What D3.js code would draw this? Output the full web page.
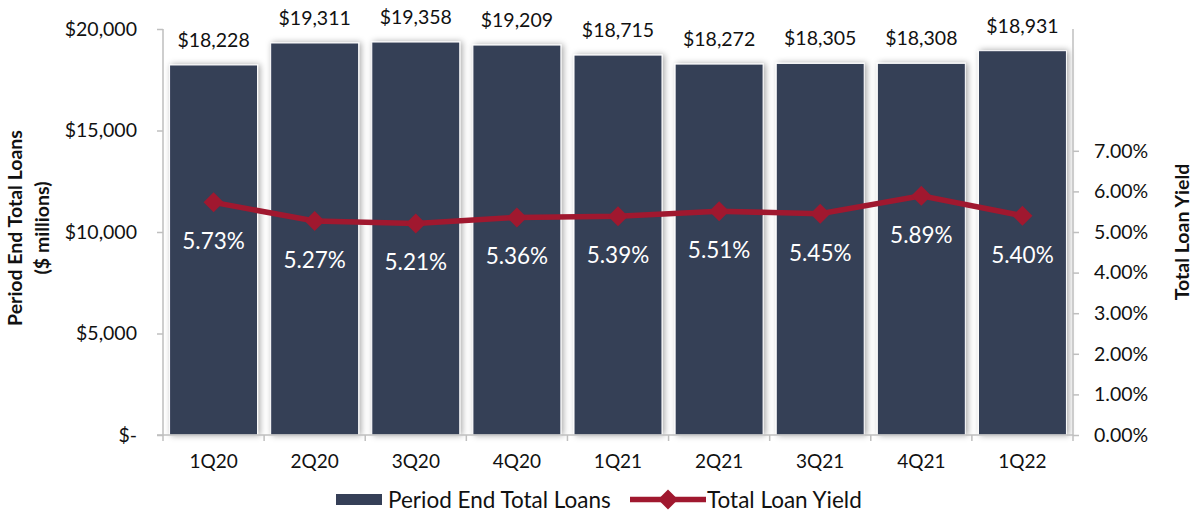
<!DOCTYPE html>
<html><head><meta charset="utf-8">
<script src="https://cdn.jsdelivr.net/npm/d3@7"></script>
<style>body{margin:0;background:#fff}svg{display:block}text{font-family:Lato,"Open Sans",sans-serif}</style>
</head><body><svg id="c" width="1195" height="517"></svg>
<script>
const categories = ["1Q20","2Q20","3Q20","4Q20","1Q21","2Q21","3Q21","4Q21","1Q22"];
const loans = [18228,19311,19358,19209,18715,18272,18305,18308,18931];
const yields = [5.73,5.27,5.21,5.36,5.39,5.51,5.45,5.89,5.40];
const leftTicks = [0,5000,10000,15000,20000];
const rightTicks = [0,1,2,3,4,5,6,7];
const barColor = "#353F57", lineColor = "#A0182F";

const svg = d3.select("#c");
const L=163, R=1073, T=29, B=435;
const x = d3.scaleBand().domain(categories).range([L,R]).paddingInner(0.13).paddingOuter(0.065);
const y = d3.scaleLinear().domain([0,20000]).range([B,T]);
const y2 = d3.scaleLinear().domain([0,10]).range([B,T]);

const defs = svg.append("defs");
const f = defs.append("filter").attr("id","sh").attr("x","-20%").attr("y","-10%").attr("width","140%").attr("height","120%");
f.append("feDropShadow").attr("dx",2).attr("dy",0).attr("stdDeviation",3).attr("flood-color","#000").attr("flood-opacity",0.35);

// bars
svg.append("g").selectAll("rect").data(loans).join("rect")
  .attr("x",(d,i)=>x(categories[i])).attr("width",x.bandwidth())
  .attr("y",d=>y(d)).attr("height",d=>B-y(d))
  .attr("fill",barColor).attr("stroke","#fff").attr("stroke-width",1).attr("filter","url(#sh)");

// left axis
const gl = svg.append("g").attr("transform",`translate(${L},0)`)
  .call(d3.axisLeft(y).tickValues(leftTicks).tickSize(6).tickPadding(20)
    .tickFormat(d=>d===0?"$-":"$"+d3.format(",")(d)));
gl.select(".domain").attr("stroke","#BFBFBF").attr("stroke-width",1.5).attr("d",`M-6,${B}H0V${T}`);
gl.selectAll(".tick line").attr("stroke","#BFBFBF").attr("stroke-width",1.5);
gl.selectAll(".tick text").attr("font-size",19.5).attr("fill","#111");

// right axis
const gr = svg.append("g").attr("transform",`translate(${R},0)`)
  .call(d3.axisRight(y2).tickValues(rightTicks).tickSize(6).tickPadding(15)
    .tickFormat(d=>d3.format(".2f")(d)+"%"));
gr.select(".domain").attr("stroke","#BFBFBF").attr("stroke-width",1.5).attr("d",`M0,${T}V${B}`);
gr.selectAll(".tick line").attr("stroke","#BFBFBF").attr("stroke-width",1.5);
gr.selectAll(".tick text").attr("font-size",19.5).attr("fill","#111");

// bottom axis
const gb = svg.append("g").attr("transform",`translate(0,${B})`)
  .call(d3.axisBottom(x).tickSize(0).tickPadding(20));
gb.select(".domain").attr("stroke","#BFBFBF").attr("stroke-width",1.5).attr("d",`M${L},0H${R}`);
gb.selectAll(".tick text").attr("font-size",19).attr("fill","#111");
// category boundary ticks
svg.append("g").selectAll("line").data(d3.range(categories.length+1)).join("line")
  .attr("x1",i=>L+i*(R-L)/categories.length).attr("x2",i=>L+i*(R-L)/categories.length)
  .attr("y1",B).attr("y2",B+6).attr("stroke","#BFBFBF").attr("stroke-width",1.5);

// bar labels
svg.append("g").selectAll("text").data(loans).join("text")
  .attr("x",(d,i)=>x(categories[i])+x.bandwidth()/2).attr("y",d=>y(d)-18)
  .attr("text-anchor","middle").attr("font-size",19.5).attr("fill","#111")
  .text(d=>"$"+d3.format(",")(d));

// line
const cx = (i)=>x(categories[i])+x.bandwidth()/2;
svg.append("path").datum(yields)
  .attr("d",d3.line().x((d,i)=>cx(i)).y(d=>y2(d)))
  .attr("fill","none").attr("stroke",lineColor).attr("stroke-width",5.5);
svg.append("g").selectAll("path").data(yields).join("path")
  .attr("transform",(d,i)=>`translate(${cx(i)},${y2(d)})`)
  .attr("d","M0,-10L10,0L0,10L-10,0Z").attr("fill",lineColor);
svg.append("g").selectAll("text").data(yields).join("text")
  .attr("x",(d,i)=>cx(i)).attr("y",d=>y2(d)+47)
  .attr("text-anchor","middle").attr("font-size",22.5).attr("fill","#fff")
  .text(d=>d3.format(".2f")(d)+"%");

// axis titles
svg.append("text").attr("transform","translate(22,228) rotate(-90)")
  .attr("text-anchor","middle").attr("font-size",19.5).attr("font-weight","bold").attr("fill","#111")
  .text("Period End Total Loans");
svg.append("text").attr("transform","translate(49,228) rotate(-90)")
  .attr("text-anchor","middle").attr("font-size",19.5).attr("font-weight","bold").attr("fill","#111")
  .text("($ millions)");
svg.append("text").attr("transform","translate(1189,232) rotate(-90)")
  .attr("text-anchor","middle").attr("font-size",19.5).attr("font-weight","bold").attr("fill","#111")
  .text("Total Loan Yield");

// legend
const lg = svg.append("g");
lg.append("rect").attr("x",336).attr("y",494).attr("width",46).attr("height",11).attr("fill",barColor);
lg.append("text").attr("x",388).attr("y",508).attr("font-size",22.5).attr("fill","#111").text("Period End Total Loans");
lg.append("line").attr("x1",630).attr("x2",706).attr("y1",499.5).attr("y2",499.5).attr("stroke",lineColor).attr("stroke-width",5.5);
lg.append("path").attr("transform","translate(668,499.5)").attr("d","M0,-10L10,0L0,10L-10,0Z").attr("fill",lineColor);
lg.append("text").attr("x",707).attr("y",508).attr("font-size",22.5).attr("fill","#111").text("Total Loan Yield");
</script></body></html>
